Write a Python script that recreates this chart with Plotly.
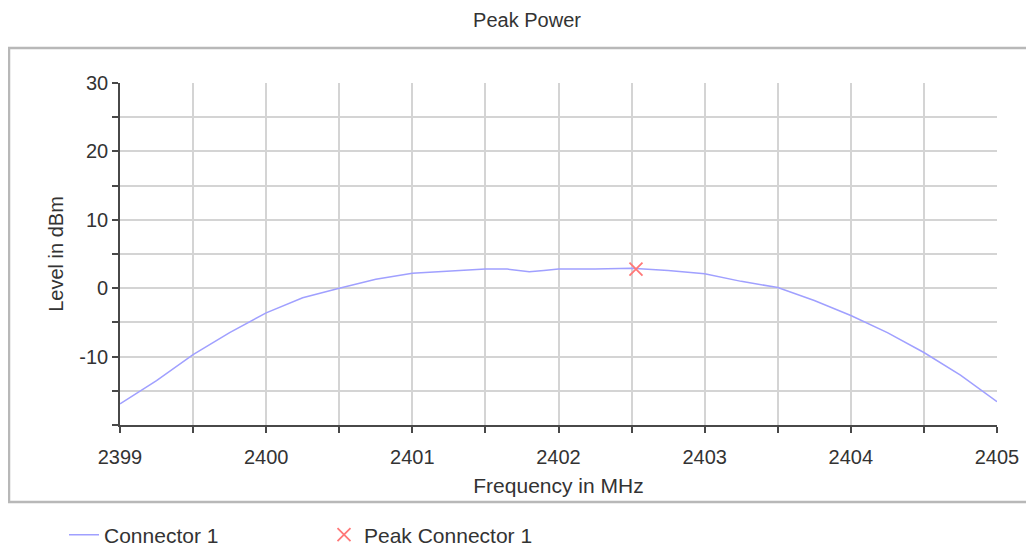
import plotly.graph_objects as go

# ---- data ----
freq_mhz = [2399, 2399.25, 2399.5, 2399.75, 2400, 2400.25, 2400.5, 2400.75,
            2401, 2401.25, 2401.5, 2401.65, 2401.8, 2401.9, 2402, 2402.25,
            2402.5, 2402.75, 2403, 2403.25, 2403.5, 2403.75, 2404, 2404.25,
            2404.5, 2404.75, 2405]
level_dbm = [-16.9, -13.5, -9.7, -6.5, -3.6, -1.4, 0.0, 1.3,
             2.2, 2.5, 2.8, 2.8, 2.4, 2.6, 2.8, 2.8,
             2.9, 2.6, 2.1, 1.0, 0.1, -1.8, -4.0, -6.5,
             -9.4, -12.7, -16.6]
peak_freq = [2402.53]
peak_level = [2.8]

x_ticks = [2399, 2400, 2401, 2402, 2403, 2404, 2405]
y_ticks = [-10, 0, 10, 20, 30]
x_range = [2399, 2405]
y_range = [-20, 30]

FONT = "Liberation Sans, Arial, sans-serif"
TXT = "#333333"
GRID = "#d4d4d4"
AXIS = "#484848"

# the page body adds an 8px offset; the figure is sized to fill the rest
W, H = 1026, 541
L, R, T, B = 112, 37, 75, 124
PW = W - L - R
PH = H - T - B


def px_x(sx):  # screen x -> paper x
    return (sx - 8 - L) / PW


def px_y(sy):  # screen y -> paper y
    return (H - B - (sy - 8)) / PH


fig = go.Figure()
fig.add_trace(go.Scatter(
    x=freq_mhz, y=level_dbm, mode="lines", name="Connector 1",
    line=dict(color="rgb(160,160,255)", width=1.5)))
fig.add_trace(go.Scatter(
    x=peak_freq, y=peak_level, mode="markers", name="Peak Connector 1",
    marker=dict(symbol="x-thin", size=13,
                line=dict(color="rgb(255,120,120)", width=1.8))))

common_x = dict(range=x_range, fixedrange=True)
common_y = dict(range=y_range, fixedrange=True)

fig.update_layout(
    width=W, height=H,
    margin=dict(l=L, r=R, t=T, b=B, autoexpand=False),
    paper_bgcolor="white", plot_bgcolor="white",
    font=dict(family=FONT, color=TXT, size=20),
    title=dict(text="Peak Power", x=(527 - 8) / W, xanchor="center",
               y=1 - (20 - 8) / H, yanchor="middle",
               font=dict(size=20, color=TXT)),
    showlegend=True,
    legend=dict(orientation="h", xref="container", yref="container",
                x=(64 - 8) / W, xanchor="left",
                y=1 - (535 - 8) / H, yanchor="middle",
                font=dict(size=21, color=TXT),
                entrywidth=215, entrywidthmode="pixels",
                bgcolor="rgba(0,0,0,0)"),
    xaxis=dict(**common_x, tickvals=x_ticks, ticktext=[str(v) for v in x_ticks],
               showgrid=True, gridcolor=GRID, gridwidth=1.5,
               showline=True, linecolor=AXIS, linewidth=1.6,
               ticks="outside", ticklen=6, tickcolor=AXIS, tickwidth=1.5,
               ticklabelstandoff=7, automargin=False,
               minor=dict(dtick=0.5, tick0=2399, showgrid=True, gridcolor=GRID,
                          gridwidth=1.5, ticks="outside", ticklen=6,
                          tickcolor=AXIS, tickwidth=1.5),
               zeroline=False,
               title=dict(text="Frequency in MHz", standoff=12,
                          font=dict(size=21, color=TXT))),
    yaxis=dict(**common_y, tickvals=y_ticks, ticktext=[str(v) for v in y_ticks],
               showgrid=True, gridcolor=GRID, gridwidth=1.5,
               showline=True, linecolor=AXIS, linewidth=1.6,
               ticks="outside", ticklen=6, tickcolor=AXIS, tickwidth=1.5,
               automargin=False,
               minor=dict(dtick=5, tick0=0, showgrid=True, gridcolor=GRID,
                          gridwidth=1.5, ticks="outside", ticklen=6,
                          tickcolor=AXIS, tickwidth=1.5),
               zeroline=False,
               title=dict(text="Level in dBm", standoff=10,
                          font=dict(size=20, color=TXT))),
    # overlay axes giving the inner half of the crossing tick marks
    xaxis2=dict(**common_x, overlaying="x", anchor="y", side="bottom",
                tickvals=x_ticks, showticklabels=False, showgrid=False,
                showline=False, zeroline=False,
                ticks="inside", ticklen=5, tickcolor=AXIS, tickwidth=1.5,
                minor=dict(dtick=0.5, tick0=2399, ticks="inside", ticklen=5,
                           tickcolor=AXIS, tickwidth=1.5, showgrid=False)),
    yaxis2=dict(**common_y, overlaying="y", anchor="x", side="left",
                tickvals=y_ticks, showticklabels=False, showgrid=False,
                showline=False, zeroline=False,
                ticks="inside", ticklen=5, tickcolor=AXIS, tickwidth=1.5,
                minor=dict(dtick=5, tick0=0, ticks="inside", ticklen=5,
                           tickcolor=AXIS, tickwidth=1.5, showgrid=False)),
    shapes=[dict(type="rect", xref="paper", yref="paper",
                 x0=px_x(9), x1=px_x(1031),
                 y0=px_y(502), y1=px_y(48),
                 line=dict(color="#b8b8b8", width=2.5), layer="below")],
)

fig.write_html("out.html")
